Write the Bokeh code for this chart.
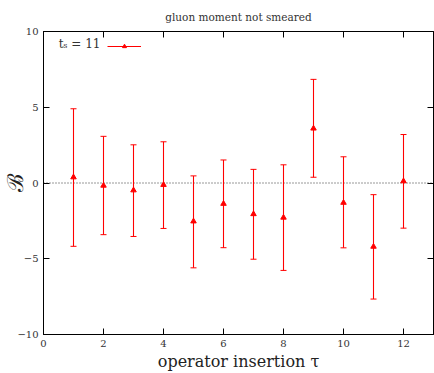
import math
from bokeh.plotting import figure
from bokeh.models import (ColumnDataSource, Whisker, TeeHead, Span, Label, Legend, LegendItem,
                          LinearAxis, Range1d, FixedTicker)
from bokeh.embed import file_html
from bokeh.resources import INLINE

# data
tau = [1, 2, 3, 4, 5, 6, 7, 8, 9, 10, 11, 12]
B_val = [0.38, -0.17, -0.48, -0.12, -2.53, -1.37, -2.05, -2.28, 3.60, -1.30, -4.20, 0.12]
B_upper = [4.90, 3.08, 2.52, 2.72, 0.47, 1.52, 0.90, 1.20, 6.84, 1.73, -0.77, 3.20]
B_lower = [-4.18, -3.41, -3.53, -3.00, -5.60, -4.27, -5.03, -5.77, 0.38, -4.28, -7.66, -2.98]
x_ticks = [0, 2, 4, 6, 8, 10, 12]
y_ticks = [-10, -5, 0, 5, 10]
title_text = "gluon moment not smeared"
legend_text = "tₛ = 11"

SERIF = "DejaVu Serif"
RED = "#ff0000"

src = ColumnDataSource(dict(x=tau, y=B_val, upper=B_upper, lower=B_lower))

p = figure(width=434, height=373, x_range=Range1d(0, 13), y_range=Range1d(-10, 10),
           output_backend="svg", toolbar_location=None,
           min_border_left=42, min_border_right=1, min_border_top=0, min_border_bottom=38)
p.xgrid.visible = False
p.ygrid.visible = False
p.outline_line_color = "black"
p.outline_line_width = 1

p.title.text = title_text
p.title.align = "center"
p.title.text_font = SERIF
p.title.text_font_size = "10.5px"
p.title.text_font_style = "normal"
p.title.text_color = "#333333"
p.title.standoff = 17
p.title.offset = 0

def style_axis(ax, labels=True):
    ax.major_tick_in = 6
    ax.major_tick_out = 0
    ax.minor_tick_line_color = None
    ax.axis_line_color = "black"
    ax.major_tick_line_color = "black"
    if labels:
        ax.major_label_text_font = SERIF
        ax.major_label_text_font_size = "10px"
        ax.major_label_text_color = "#333333"
    else:
        ax.major_label_text_font_size = "1px"
        ax.major_label_text_alpha = 0
        ax.major_label_standoff = 0

# bottom axis
xa = p.xaxis[0]
xa.ticker = FixedTicker(ticks=x_ticks)
style_axis(xa)
xa.major_label_standoff = 5
xa.axis_label = "operator insertion τ"
xa.axis_label_text_font = SERIF
xa.axis_label_text_font_size = "16px"
xa.axis_label_text_font_style = "normal"
xa.axis_label_text_color = "#222222"
xa.axis_label_standoff = 2

# left axis
ya = p.yaxis[0]
ya.ticker = FixedTicker(ticks=y_ticks)
style_axis(ya)
ya.major_label_standoff = 5
ya.major_label_overrides = {-10: "−10", -5: "−5"}
ya.axis_label = "ℬ"
ya.axis_label_text_font = SERIF
ya.axis_label_text_font_size = "22px"
ya.axis_label_text_font_style = "normal"
ya.axis_label_text_color = "#222222"
ya.axis_label_standoff = -14

# mirror axes (ticks only)
ta = LinearAxis(ticker=FixedTicker(ticks=x_ticks))
style_axis(ta, labels=False)
p.add_layout(ta, "above")
ra = LinearAxis(ticker=FixedTicker(ticks=y_ticks))
style_axis(ra, labels=False)
p.add_layout(ra, "right")

# zero line
p.add_layout(Span(location=0, dimension="width", line_color="#333333",
                  line_dash="1 2", line_width=1, level="underlay"))

# error bars: thin filled bars as stems, tee heads as caps
p.vbar(x="x", top="upper", bottom="lower", width=0.036, source=src,
       fill_color=RED, line_color=None)
wh = Whisker(base="x", upper="upper", lower="lower", source=src,
             line_color=RED, line_alpha=0,
             upper_head=TeeHead(size=6, line_color=RED, line_width=1),
             lower_head=TeeHead(size=6, line_color=RED, line_width=1))
p.add_layout(wh)
sc = p.scatter(x="x", y="y", source=src, marker="triangle", size=5.5,
               fill_color=RED, line_color=RED)
# renderer used only for the legend sample (horizontal error bar)
seg = p.segment(x0="x", y0="lower", x1="x", y1="upper", source=src,
                line_color=RED, line_width=1, visible=False)

# legend (glyph only, label drawn on its left)
leg = Legend(items=[LegendItem(label=" ", renderers=[seg, sc])],
             location=(64, 283), glyph_width=34, glyph_height=10,
             padding=0, margin=0, spacing=0, label_width=0, label_height=10,
             label_standoff=0, border_line_alpha=0, background_fill_alpha=0,
             label_text_font_size="1px")
p.add_layout(leg, "center")
p.add_layout(Label(x=57, y=291, x_units="screen", y_units="screen", text=legend_text,
                   text_font=SERIF, text_font_size="12px", text_font_style="normal",
                   text_align="right", text_baseline="middle", text_color="#333333"))

open("out.html", "w").write(file_html(p, INLINE))
